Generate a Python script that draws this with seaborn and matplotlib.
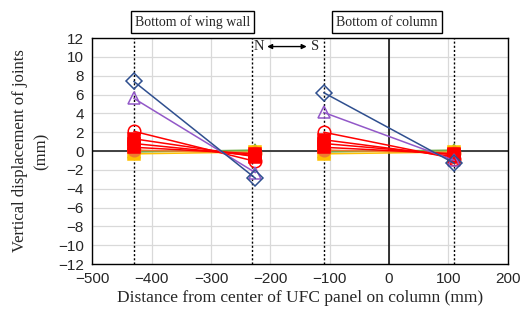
import matplotlib
matplotlib.use("Agg")
import matplotlib.pyplot as plt
import seaborn as sns

# joint positions (mm from center of UFC panel)
wall_x = [-430, -225]
col_x = [-110, 110]
guide_x = [-430, -230, -110, 110]

# vertical displacement (mm) per loading step, [N side, S side]
wall_disp = {
    "s1": [0.0, 0.0],
    "s2": [-0.1, 0.1],
    "s3": [-0.3, -0.1],
    "s4": [0.1, -0.2],
    "s5": [0.4, -0.3],
    "s6": [0.8, -0.5],
    "s7": [1.3, -0.6],
    "s8": [2.1, -1.1],
    "s9": [5.6, -2.3],
    "s10": [7.4, -2.9],
}
col_disp = {
    "s1": [0.0, 0.0],
    "s2": [-0.1, 0.1],
    "s3": [-0.3, -0.1],
    "s4": [0.1, -0.2],
    "s5": [0.4, -0.3],
    "s6": [0.8, -0.4],
    "s7": [1.2, -0.6],
    "s8": [2.0, -0.8],
    "s9": [4.1, -1.0],
    "s10": [6.2, -1.3],
}

# marker style for each step: (color, marker, filled)
styles = {
    "s1": ("#5BC0EB", "", True),
    "s2": ("#70AD47", "^", True),
    "s3": ("#FFC000", "s", True),
    "s4": ("#ED7D31", "o", True),
    "s5": ("#FF0000", "s", True),
    "s6": ("#FF0000", "s", True),
    "s7": ("#FF0000", "s", True),
    "s8": ("#FF0000", "o", False),
    "s9": ("#9258C8", "^", False),
    "s10": ("#2F4F8F", "D", False),
}

sns.set_style("white")
plt.rcParams["font.family"] = ["Liberation Sans", "DejaVu Sans"]

fig, ax = plt.subplots(figsize=(5.3, 3.2), dpi=100)
fig.subplots_adjust(left=0.174, right=0.958, top=0.881, bottom=0.175)

for xs, disp in [(wall_x, wall_disp), (col_x, col_disp)]:
    for key, ys in disp.items():
        color, mk, filled = styles[key]
        sns.lineplot(x=xs, y=ys, ax=ax, color=color, linewidth=1.1,
                     marker=mk if mk else None, markersize=9 if mk == "o" else 8.5,
                     markerfacecolor=color if filled else "none",
                     markeredgecolor=color, markeredgewidth=1.1,
                     sort=False, legend=False, zorder=3)

for gx in guide_x:
    ax.axvline(gx, color="black", linestyle=(0, (1.5, 1.5)), linewidth=1.0, zorder=2)
ax.axvline(0, color="black", linewidth=1.1, zorder=2)
ax.axhline(0, color="#333333", linewidth=1.3, zorder=2)

ax.set_xlim(-500, 200)
ax.set_ylim(-12, 12)
ax.set_xticks(range(-500, 201, 100))
ax.set_yticks(range(-12, 13, 2))
ax.grid(True, color="#D9D9D9", linewidth=0.9, zorder=0)
ax.tick_params(labelsize=11, length=0, pad=6)
for sp in ax.spines.values():
    sp.set_color("black")
    sp.set_linewidth(1.0)

serif = ["Liberation Serif", "DejaVu Serif"]
ax.set_xlabel("Distance from center of UFC panel on column (mm)", family=serif, fontsize=12.5, labelpad=3)
ax.set_ylabel("Vertical displacement of joints\n(mm)", family=serif, fontsize=12, labelpad=6,
              linespacing=1.5)

box = dict(boxstyle="square,pad=0.3", facecolor="white", edgecolor="black", linewidth=1.0)
ax.text(-331, 13.7, "Bottom of wing wall", family=serif, fontsize=10, ha="center", va="center",
        bbox=box, clip_on=False)
ax.text(-3, 13.7, "Bottom of column", family=serif, fontsize=10, ha="center", va="center",
        bbox=box, clip_on=False)

ax.text(-220, 11.1, "N", family=serif, fontsize=10.5, ha="center", va="center")
ax.text(-124, 11.1, "S", family=serif, fontsize=10.5, ha="center", va="center")
ax.annotate("", xy=(-134, 11.1), xytext=(-210, 11.1),
            arrowprops=dict(arrowstyle="<|-|>", color="black", lw=1.0, mutation_scale=7))

fig.savefig("out.png", dpi=100)
